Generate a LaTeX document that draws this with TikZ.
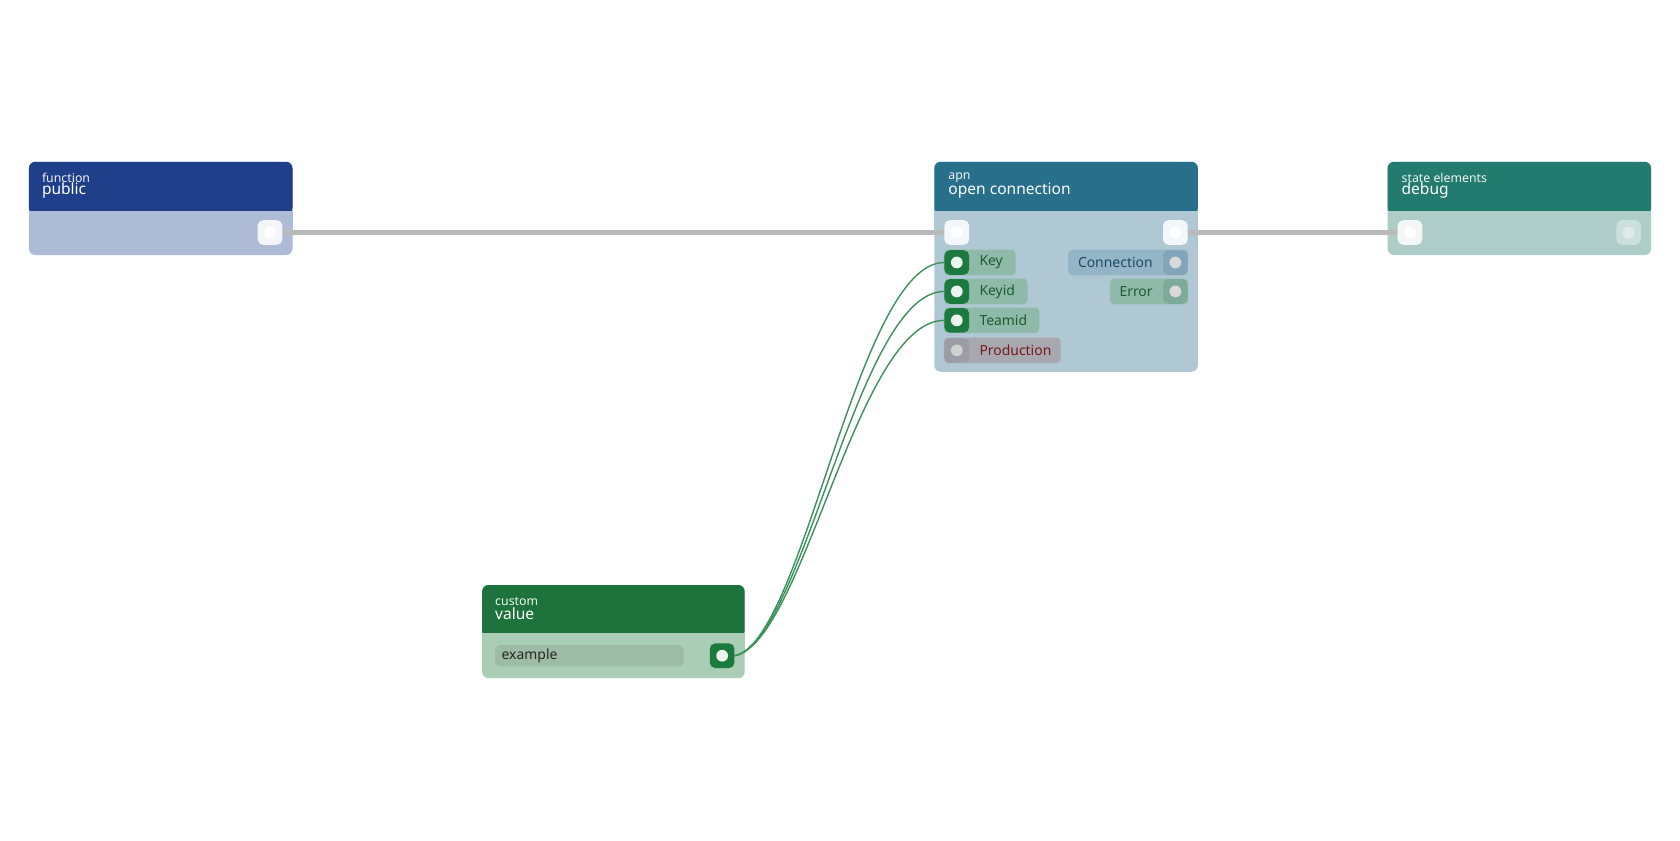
\documentclass[tikz,border=0pt]{standalone}
\usepackage{fontspec}
\setmainfont{Noto Sans}
\begin{document}
\begin{tikzpicture}[x=1pt,y=-1pt,
 lbl/.style={anchor=west,inner sep=0pt,font=\fontsize{14.5}{14.5}\selectfont},
 small/.style={anchor=west,inner sep=0pt,font=\fontsize{11.5}{11.5}\selectfont},
 port/.style={rounded corners=5pt,minimum size=23pt,inner sep=0pt},
 dot/.style={circle,fill=white,minimum size=11pt,inner sep=0pt},
 wire/.style={line width=4pt,color=black!27},
 gwire/.style={line width=1.3pt,color=gw},
 tag/.style={inner sep=0pt,font=\fontsize{13}{13}\selectfont}]
\definecolor{pubH}{HTML}{1F3F8A}\definecolor{pubB}{HTML}{AEBBD6}
\definecolor{apnH}{HTML}{286F8C}\definecolor{apnB}{HTML}{B0C8D4}
\definecolor{dbgH}{HTML}{237A6E}\definecolor{dbgB}{HTML}{AFCDC8}
\definecolor{valH}{HTML}{1D733B}\definecolor{valB}{HTML}{A9CDB5}
\definecolor{gport}{HTML}{1D7A3E}\definecolor{gtag}{HTML}{8FBAAA}
\definecolor{gtxt}{HTML}{1D5A30}\definecolor{gw}{HTML}{3C915A}
\definecolor{exf}{HTML}{9DBBA5}\definecolor{prb}{HTML}{A8A8B0}
\definecolor{prp}{HTML}{9C9CA6}\definecolor{prt}{HTML}{781919}
\definecolor{cob}{HTML}{93B5C6}\definecolor{cop}{HTML}{82A5B9}
\definecolor{cot}{HTML}{1E4B64}\definecolor{erp}{HTML}{7DAA9B}
\useasboundingbox (0,0) rectangle (1568,784);
\fill[white] (0,0) rectangle (1568,784);
% public
\fill[pubB,rounded corners=6pt] (27,151) rectangle (273,238);
\fill[pubH,rounded corners=6pt] (27,151) rectangle (273,200);
\fill[pubB] (27,197) rectangle (273,215);
\node[small,text=white!80!pubB] at (39,166) {function};
\node[lbl,text=white] at (39,178) {public};
% apn
\fill[apnB,rounded corners=6pt] (872,151) rectangle (1118,347);
\fill[apnH,rounded corners=6pt] (872,151) rectangle (1118,200);
\fill[apnB] (872,197) rectangle (1118,215);
\node[small,text=white!80!apnB] at (885,166) {apn};
\node[lbl,text=white] at (885,178) {open connection};
% debug
\fill[dbgB,rounded corners=6pt] (1295,151) rectangle (1541,238);
\fill[dbgH,rounded corners=6pt] (1295,151) rectangle (1541,200);
\fill[dbgB] (1295,197) rectangle (1541,215);
\node[small,text=white!80!dbgB] at (1308,166) {state elements};
\node[lbl,text=white] at (1308,178) {debug};
% value
\fill[valB,rounded corners=6pt] (450,546) rectangle (695,633);
\fill[valH,rounded corners=6pt] (450,546) rectangle (695,595);
\fill[valB] (450,591) rectangle (695,610);
\node[small,text=white!80!valB] at (462,561) {custom};
\node[lbl,text=white] at (462,573) {value};
\fill[exf,rounded corners=5pt] (462,602) rectangle (638,622);
\node[tag,anchor=west,text=black!85] at (468,612) {example};
% ports
\node[port,fill=white!85!pubB] (pout) at (252,217) {}; \node[dot] at (pout) {};
\node[port,fill=white!85!apnB] (ain) at (893,217) {}; \node[dot] at (ain) {};
\node[port,fill=white!85!apnB] (aout) at (1097,217) {}; \node[dot] at (aout) {};
\node[port,fill=white!85!dbgB] (din) at (1316,217) {}; \node[dot] at (din) {};
\node[port,fill=white!35!dbgB] (dout) at (1520,217) {}; \node[dot,fill=white!60!dbgB] at (dout) {};
\node[port,fill=gport] (vout) at (674,612) {}; \node[dot,fill=white!92!gport] at (vout) {};
% tags on apn
\foreach \n/\t/\w/\y in {k/Key/67/245, ki/Keyid/78/272, t/Teamid/89/299}{
  \fill[gtag,rounded corners=4pt] (881,\y-12) rectangle (881+\w,\y+12);
  \node[port,fill=gport] (\n) at (893,\y) {}; \node[dot,fill=white!92!gport] at (\n) {};
  \node[tag,anchor=west,text=gtxt] at (914,\y) {\t};
}
\fill[prb,rounded corners=4pt] (881,315) rectangle (990,339);
\node[port,fill=prp] (pr) at (893,327) {}; \node[dot,fill=black!18] at (pr) {};
\node[tag,anchor=west,text=prt] at (914,327) {Production};
\fill[cob,rounded corners=4pt] (997,233) rectangle (1109,257);
\node[port,fill=cop] (co) at (1097,245) {}; \node[dot,fill=black!15] at (co) {};
\node[tag,anchor=east,text=cot] at (1076,245) {Connection};
\fill[gtag,rounded corners=4pt] (1036,260) rectangle (1109,284);
\node[port,fill=erp] (er) at (1097,272) {}; \node[dot,fill=black!15] at (er) {};
\node[tag,anchor=east,text=gtxt] at (1076,272) {Error};
% wires
\draw[wire] (pout.east) -- (ain.west);
\draw[wire] (aout.east) -- (din.west);
\foreach \n in {k,ki,t}
  \draw[gwire] (vout.east) .. controls (750,600) and (800,0 |- \n.west) .. (\n.west);
\end{tikzpicture}
\end{document}
